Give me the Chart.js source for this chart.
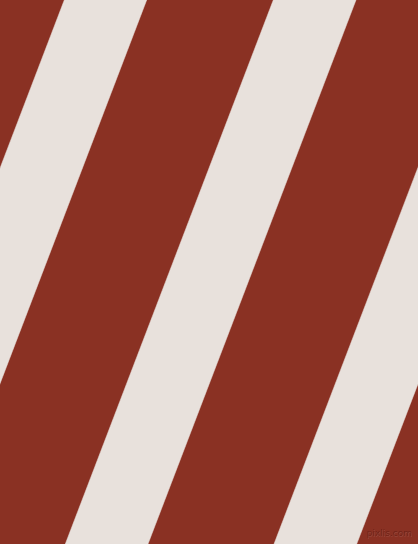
<!DOCTYPE html>
<html>
<head>
<meta charset="utf-8">
<script src="https://cdn.jsdelivr.net/npm/chart.js@4"></script>
<style>
  html, body { margin: 0; padding: 0; background: #8a3123; overflow: hidden; }
  #wrap { width: 418px; height: 544px; }
</style>
</head>
<body>
<div id="wrap"><canvas id="stripes" width="418" height="544"></canvas></div>
<script>
// light stripes, edge x positions at the top (y=0) and bottom (y=544)
const stripeNames = ['stripe 1', 'stripe 2', 'stripe 3'];
const leftTop = [64.3, 273.3, 482.0];
const rightTop = [146.7, 356.0, 565.0];
const leftBottom = [-143.7, 65.3, 274.0];
const rightBottom = [-61.3, 148.0, 356.7];

const W = 418, H = 544;
const lightColor = '#e8e1dc';

// watermark in the bottom corner
const watermark = {
    id: 'watermark',
    afterDraw(chart) {
        const c = chart.ctx;
        c.save();
        c.font = '9px "DejaVu Sans", sans-serif';
        c.textAlign = 'right';
        c.textBaseline = 'alphabetic';
        c.fillStyle = 'rgba(255,255,255,0.10)';
        c.fillText('pixlis.com', 412.5, 536.5);
        c.fillStyle = 'rgba(60,10,5,0.35)';
        c.fillText('pixlis.com', 412, 536);
        c.restore();
    }
};

const datasets = stripeNames.map((name, i) => ({
    label: name,
    data: [
        {x: leftTop[i], y: 0},
        {x: rightTop[i], y: 0},
        {x: rightBottom[i], y: H},
        {x: leftBottom[i], y: H},
        {x: leftTop[i], y: 0}
    ],
    showLine: true,
    fill: 'shape',
    backgroundColor: lightColor,
    borderColor: lightColor,
    borderWidth: 0.5,
    pointRadius: 0,
    tension: 0
}));

const ctx = document.getElementById('stripes');

let chart = new Chart(ctx, {
    type: 'scatter',
    data: { datasets: datasets },
    options: {
        responsive: false,
        animation: false,
        events: [],
        layout: { padding: 0 },
        scales: {
            x: { type: 'linear', min: 0, max: W, display: false },
            y: { type: 'linear', min: 0, max: H, reverse: true, display: false }
        },
        plugins: {
            legend: { display: false },
            tooltip: { enabled: false },
            title: { display: false }
        }
    },
    plugins: [watermark]
});
</script>
</body>
</html>
